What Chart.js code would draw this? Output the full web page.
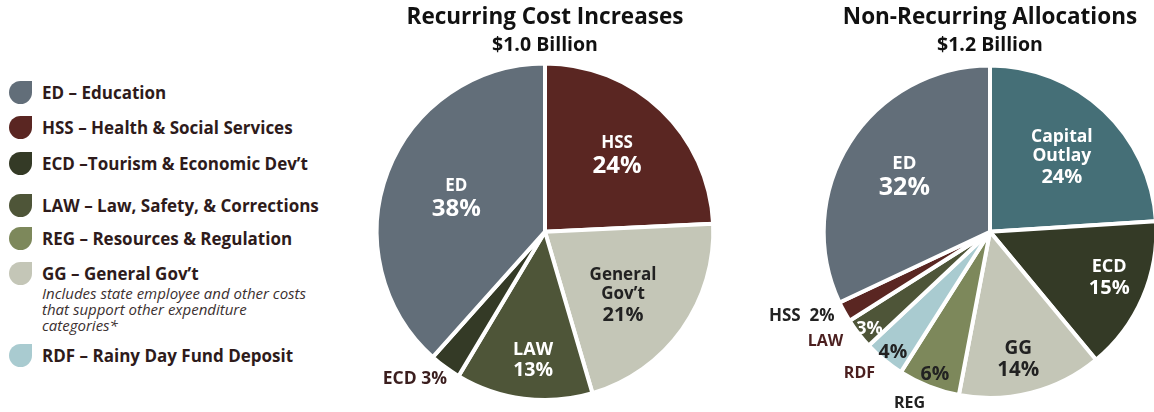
<!DOCTYPE html>
<html>
<head>
<meta charset="utf-8">
<script src="https://cdn.jsdelivr.net/npm/chart.js@4"></script>
<style>
  html, body { margin: 0; padding: 0; background: #fff; overflow: hidden; width: 1154px; height: 412px; }
  body { position: relative; font-family: 'Open Sans', sans-serif; }
  #legend { position: absolute; left: 0; top: 0; width: 340px; }
  .item { position: absolute; left: 9px; display: flex; align-items: flex-start; }
  .leaf { width: 23px; height: 23px; border-radius: 50% 0 50% 50%; flex: none; }
  .txt { margin-left: 10px; font-weight: bold; font-size: 17px; color: #2e1b1b; line-height: 23px; white-space: nowrap; }
  .sub { font-weight: normal; font-style: italic; font-size: 15px; line-height: 16px; color: #3b3030; white-space: normal; width: 280px; }
  canvas { position: absolute; top: 0; }
  #c1 { left: 360px; }
  #c2 { left: 760px; }
</style>
</head>
<body>
<div id="legend"></div>
<canvas id="c1" width="370" height="412"></canvas>
<canvas id="c2" width="460" height="412"></canvas>
<script>
// legend
const legendText = ['ED \u2013 Education', 'HSS \u2013 Health & Social Services', 'ECD \u2013Tourism & Economic Dev\u2019t',
	'LAW \u2013 Law, Safety, & Corrections', 'REG \u2013 Resources & Regulation', 'GG \u2013 General Gov\u2019t', 'RDF \u2013 Rainy Day Fund Deposit'];
const legendColors = ['#626e79', '#5a2622', '#343a26', '#4e5538', '#7d885b', '#c4c6b7', '#a9cbd0'];
const ggNote = 'Includes state employee and other costs that support other expenditure categories*';

// recurring cost increases
const recurringCats = ['HSS', 'General Gov\u2019t', 'LAW', 'ECD', 'ED'];
const recurringValues = [24, 21, 13, 3, 38];
const recurringColors = ['#5a2622', '#c4c6b7', '#4e5538', '#343a26', '#626e79'];

// non-recurring allocations
const nonRecurringCats = ['Capital Outlay', 'ECD', 'GG', 'REG', 'RDF', 'LAW', 'HSS', 'ED'];
const nonRecurringValues = [24, 15, 14, 6, 4, 3, 2, 32];
const nonRecurringColors = ['#456f77', '#343a26', '#c4c6b7', '#7d885b', '#a9cbd0', '#4e5538', '#5a2622', '#626e79'];

const legendTops = [81, 116, 152, 194, 227, 262, 344];
const legendEl = document.getElementById('legend');
legendText.forEach((t, i) => {
	const d = document.createElement('div');
	d.className = 'item';
	d.style.top = legendTops[i] + 'px';
	d.innerHTML = '<div class="leaf" style="background:' + legendColors[i] + '"></div><div class="txt">' + t +
		(i === 5 ? '<div class="sub">' + ggNote + '</div>' : '') + '</div>';
	legendEl.appendChild(d);
});

// labels placed on slices: i = slice index, r = fraction of radius, da = angle nudge (deg)
const recurringLabels = [
	{ i: 0, lines: [['HSS', 17], ['{v}', 24]], r: 0.62, da: 0, color: '#fff' },
	{ i: 1, lines: [['General', 17], ['Gov\u2019t', 17], ['{v}', 20]], r: 0.6, da: 4, color: '#222' },
	{ i: 2, lines: [['LAW', 18], ['{v}', 19.5]], r: 0.77, da: -2, color: '#fff' },
	{ i: 3, lines: [['ECD {v}', 17.5]], r: 1.17, da: 5, color: '#3b1e1e' },
	{ i: 4, lines: [['ED', 17], ['{v}', 24]], r: 0.56, da: -1, color: '#fff' }
];
const nonRecurringLabels = [
	{ i: 0, lines: [['Capital', 17.5], ['Outlay', 17.5], ['{v}', 20]], r: 0.62, da: 1, color: '#fff' },
	{ i: 1, lines: [['ECD', 18], ['{v}', 20]], r: 0.77, da: -2, color: '#fff' },
	{ i: 2, lines: [['GG', 19], ['{v}', 20.5]], r: 0.79, da: 2, color: '#222' },
	{ i: 3, lines: [['{v}', 19.5]], r: 0.92, da: -0.5, color: '#222' },
	{ i: 3, lines: [['REG', 16]], r: 1.14, da: 3.5, color: '#222' },
	{ i: 4, lines: [['{v}', 19.5]], r: 0.93, da: -0.7, color: '#222' },
	{ i: 4, lines: [['RDF', 16]], r: 1.16, da: 3, color: '#4b1f1f' },
	{ i: 5, lines: [['{v}', 18]], r: 0.93, da: -1, color: '#fff' },
	{ i: 5, lines: [['LAW', 16]], r: 1.19, da: 4, color: '#4b1f1f' },
	{ i: 6, lines: [['HSS\u00a0 {v}', 17]], r: 1.24, da: 4.7, color: '#222' },
	{ i: 7, lines: [['ED', 18.5], ['{v}', 25]], r: 0.61, da: 0, color: '#fff' }
];

const sliceLabels = {
	id: 'sliceLabels',
	afterDatasetsDraw(chart, args, opts) {
		const ctx = chart.ctx;
		const meta = chart.getDatasetMeta(0);
		const values = chart.data.datasets[0].data;
		ctx.save();
		ctx.textAlign = 'center';
		ctx.textBaseline = 'middle';
		opts.labels.forEach(l => {
			const arc = meta.data[l.i];
			const p = arc.getProps(['x', 'y', 'startAngle', 'endAngle', 'outerRadius'], true);
			const a = (p.startAngle + p.endAngle) / 2 + l.da * Math.PI / 180;
			const cx = p.x + Math.cos(a) * p.outerRadius * l.r;
			const cy = p.y + Math.sin(a) * p.outerRadius * l.r;
			const hs = l.lines.map(ln => ln[1] * 1.12);
			let y = cy - hs.reduce((s, h) => s + h, 0) / 2;
			ctx.fillStyle = l.color;
			l.lines.forEach((ln, k) => {
				ctx.font = 'bold ' + ln[1] + 'px "Open Sans"';
				ctx.fillText(ln[0].replace('{v}', values[l.i] + '%'), cx, y + hs[k] / 2);
				y += hs[k];
			});
		});
		ctx.restore();
	}
};

function pieOptions(title, sub, labels, padBottom, subPad) {
	return {
		responsive: false,
		animation: false,
		layout: { padding: { bottom: padBottom } },
		plugins: {
			legend: { display: false },
			tooltip: { enabled: false },
			title: {
				display: true,
				text: title,
				color: '#111',
				font: { family: 'Open Sans', size: 22.5, weight: 'bold' },
				padding: { top: 4, bottom: 1 }
			},
			subtitle: {
				display: true,
				text: sub,
				color: '#111',
				font: { family: 'Open Sans', size: 19.5, weight: 'bold' },
				padding: { top: 2, bottom: subPad }
			},
			sliceLabels: { labels: labels }
		}
	};
}

new Chart(document.getElementById('c1'), {
	type: 'pie',
	data: {
		labels: recurringCats,
		datasets: [{
			data: recurringValues,
			backgroundColor: recurringColors,
			borderColor: '#fff',
			borderWidth: 4
		}]
	},
	options: pieOptions('Recurring Cost Increases', '$1.0 Billion', recurringLabels, 10, 4),
	plugins: [sliceLabels]
});

new Chart(document.getElementById('c2'), {
	type: 'pie',
	data: {
		labels: nonRecurringCats,
		datasets: [{
			data: nonRecurringValues,
			backgroundColor: nonRecurringColors,
			borderColor: '#fff',
			borderWidth: 4
		}]
	},
	options: pieOptions('Non-Recurring Allocations', '$1.2 Billion', nonRecurringLabels, 12, 6),
	plugins: [sliceLabels]
});
</script>
</body>
</html>
